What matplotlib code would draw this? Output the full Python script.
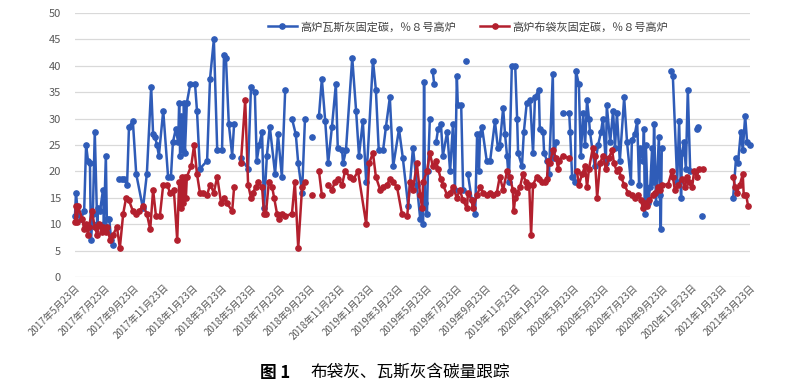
import datetime as dt
import numpy as np
import matplotlib
matplotlib.use("Agg")
import matplotlib.pyplot as plt
import matplotlib.dates as mdates

plt.rcParams['font.family'] = ['Noto Sans CJK SC', 'DejaVu Sans']

nan = float('nan')
start = dt.date(2017, 5, 23)

# days since 2017-05-23, nan = break in the line
blue_days = [0, 2, 6, 12, 19, 23, 27, 31, 33, 37, 41, 46, 48, 52, 58, 60, 64, 66, 71, 75, 79, 85,
             91, 97, 102, 108, 112, 120, 127, 141, 149, 158, 162, 166, 170, 174, 183, 193, 199, 203, 209, 214,
             216, 218, 220, 224, 226, 228, 232, 239, 249, 253, 259, 274, 280, 288, 295, 305, 309, 313, 319, 326,
             330, 337,
             344, 359, 365, 373, 377, 382, 388, 392, 398, 404, 415, 421, 429, 436, 443,
             450, 458, 463, 471, 477, 485,
             492, 499,
             506, 512, 519, 525, 533, 541, 545, 554, 556, 562, 575, 583, 589, 597, 604, 618, 624, 630, 639, 645,
             653, 660, 672, 680, 691, 701, 709, 716, 718, 722, 724, 726, 730, 732, 736, 739,
             742, 745, 747,
             749, 753, 759, 763, 772, 778, 784, 788, 792, 794, 801, 805, 808,
             811, 813,
             815, 823, 830, 834, 838, 840, 844, 854, 861, 871, 877, 881, 888, 892, 896, 900, 906, 913, 917, 919,
             927, 931, 937, 944, 950, 954, 962, 964, 971, 973, 979, 983, 991, 993, 998, 1005,
             1012, 1025, 1027, 1031, 1037, 1039, 1045, 1049, 1054, 1058, 1062, 1066, 1068, 1078, 1085, 1091,
             1095, 1101, 1103, 1110, 1116, 1120, 1124, 1130, 1139, 1145, 1153, 1155, 1161, 1166, 1170, 1172,
             1178, 1180, 1182, 1184, 1188, 1193, 1197, 1199, 1201, 1205, 1211, 1213, 1215, 1217, 1226,
             1236, 1240, 1249, 1253, 1257, 1259, 1263, 1267, 1271, 1276, 1283,
             1290, 1292, 1296,
             1300, 1330,
             1365, 1371, 1375, 1381, 1385, 1390, 1394, 1400]
blue_vals = [11.5, 16, 12, 11, 12.5, 25, 22, 21.5, 7, 12, 27.5, 10, 13, 12.5, 16.5, 10, 23, 11, 11, 7, 6, nan,
             18.5, 18.5, 18.5, 17.5, 28.5, 29.5, 19.5, 13, 19.5, 36, 27, 26.5, 25, 23, 31.5, 19, 19, 25.5, 28, 25.5,
             33, 23, 30.5, 24, 33, 23.5, 33, 36.5, 36.5, 31.5, 20.5, 22, 37.5, 45, 24, 24, 42, 41.5, 29, 23,
             29, nan,
             22.5, 20.5, 36, 35, 22, 25, 27.5, 13, 23, 28.5, 19.5, 27, 19, 35.5, nan,
             30, 27, 21.5, 16, 30, nan,
             26.5, nan,
             30.5, 37.5, 29.5, 21.5, 28.5, 36.5, 24.5, 24, 21.5, 24, 41.5, 31.5, 23, 29.5, 18, 41, 35.5, 24, 24, 28.5,
             34, 21, 28, 22.5, 13.5, 24.5, 17.5, 11, 13, 10, 37, 14, 12, 20, 30, nan,
             39, 36.5, nan,
             25.5, 28, 29, 23, 27.5, 20, 29, 16.5, 38, 32.5, 32.5, 16.5, nan,
             41, nan,
             19.5, 14.5, 12, 27, 20, 27, 28.5, 22, 22, 29.5, 24.5, 25, 32, 27, 23, 18, 40, 40, 30, 23.5,
             21, 27.5, 33, 33.5, 23.5, 34, 35.5, 28, 27.5, 23.5, 22, 19.5, 38.5, 22.5, 25.5, nan,
             31, 31, 27.5, 19, 18, 39, 36.5, 23, 31, 25, 33.5, 30, 27.5, 21, 25, 27.5,
             30, 21.5, 32.5, 25.5, 31.5, 24.5, 31, 22, 34, 25.5, 18, 26, 27, 29.5, 17.5, 24.5,
             22, 28, 12, 25, 14, 17, 24.5, 18, 29, 14, 26.5, 15.5, 9, 24.5, nan,
             39, 38, 18, 29.5, 15, 23.5, 25.5, 20.5, 35.5, 20, nan,
             28, 28.5, nan,
             11.5, nan,
             15, 22.5, 21.5, 27.5, 24, 30.5, 25.5, 25]

red_days = [0, 2, 4, 6, 15, 19, 23, 27, 29, 35, 41, 46, 50, 56, 58, 64, 66, 73, 79,
            87, 93, 100, 106, 112, 120, 127, 133, 141, 149, 156, 162, 168, 176, 183, 191, 197, 205, 212, 216,
            220, 222, 224, 228, 230, 232, 241, 247, 253, 259, 265, 274, 280, 288, 295, 303, 309, 315, 326, 330, 337,
            344, 353, 359, 365, 369, 375, 380, 388, 392, 396, 402, 409, 413, 419, 423, 429, 436, 450, 456, 463,
            471, 477, 485,
            492, 499,
            506, 512, 518,
            525, 533, 539, 545, 554, 560, 570, 577, 587, 604, 610, 618, 624, 633, 639, 647, 653, 660, 668, 678,
            689, 695, 701, 709, 716, 720, 722, 730, 736, 742, 749, 753, 759, 763, 772, 778, 784, 792, 798, 805,
            813, 815, 823, 825, 834, 840, 846, 854, 861, 867, 875, 881, 888, 896, 902, 908, 910, 913, 917, 923,
            929, 935, 937, 942, 946, 950, 958, 962, 969, 975, 979, 981, 985, 991, 998, 1002, 1004, 1012, 1025, 1033,
            1041, 1045, 1052, 1058, 1062, 1066, 1074, 1078, 1083, 1089, 1095, 1101, 1107, 1114, 1118, 1124,
            1128, 1132, 1139, 1147, 1155, 1161, 1168, 1174, 1178, 1182, 1186, 1190, 1199, 1203, 1209, 1213,
            1217, 1230, 1238, 1240, 1244, 1251, 1259, 1265, 1269, 1273, 1280, 1284, 1290, 1294, 1302, 1330,
            1365, 1369, 1373, 1379, 1385, 1387, 1392, 1396]
red_vals = [10.5, 13.5, 10.5, 13.5, 11, 9, 10, 8, 9.5, 12.5, 9.5, 8, 10, 8.5, 9.5, 8.5, 9.5, 7, 8,
            9.5, 5.5, 12, 15, 14.5, 12.5, 12, 12.5, 13.5, 12, 9, 16.5, 11.5, 11.5, 17.5, 17.5, 16, 16.5, 7, 18,
            13, 19, 14, 19, 15, 19, 21, 25, 19.5, 16, 16, 15.5, 17.5, 16, 19, 14, 15, 14, 12.5, 17, nan,
            21.5, 33.5, 17.5, 15, 16, 17, 18, 17, 12, 12, 18, 17, 15, 12, 11, 12, 11.5, 12, 18, 5.5,
            17, 18, nan,
            15.5, nan,
            20, 15.5, nan,
            17.5, 16.5, 18, 18.5, 17.5, 20, 19, 18.5, 20, 10, 21.5, 23.5, 19, 16.5, 17, 17.5, 18.5, 18, 17, 12,
            11.5, 18, 16.5, 21.5, 15.5, 13, 18, 20, 23.5, 21, 22, 20.5, 18.5, 17.5, 15.5, 16, 17, 15, 16.5, 14.5,
            13, 16, 14.5, 13, 15.5, 17, 16, 15.5, 16, 15.5, 16, 19, 16.5, 20, 19, 16.5, 12.5, 15, 16, 17,
            19.5, 18, 17, 17.5, 8, 17.5, 19, 18.5, 18, 18, 18.5, 22, 21.5, 24, 22.5, 20.5, 22, 23, 22.5, nan,
            20, 17.5, 19.5, 21, 17, 20.5, 24.5, 23, 15, 21.5, 23, 20.5, 22.5, 24, 21.5, 20,
            20.5, 19, 17.5, 16, 15.5, 15, 15.5, 14.5, 13, 14, 13.5, 14.5, 15.5, 16, 17, 16.5,
            17.5, 17.5, 20, 19, 16.5, 17.5, 18.5, 17, 19, 18, 17, 20, 19, 20.5, 20.5, nan,
            19, 17, 16, 17.5, 19.5, 15.5, 15.5, 13.5]

blue_name = '高炉瓦斯灰固定碳，％８号高炉'
red_name = '高炉布袋灰固定碳，％８号高炉'
tick_dates = [dt.date(2017 + (4 + 2 * i) // 12, (4 + 2 * i) % 12 + 1, 23) for i in range(24)]
tick_labels = [f'{d.year}年{d.month}月{d.day}日' for d in tick_dates]


def to_dates(days):
    return [start + dt.timedelta(days=int(d)) for d in days]


fig = plt.figure(figsize=(8, 3.89), dpi=100)
ax = fig.add_axes([75 / 800, 1 - 277 / 389, 675 / 800, 264 / 389])

ax.plot(to_dates(blue_days), np.array(blue_vals, float), color='#2f5cb8', lw=1.8,
        marker='o', ms=3.8, label=blue_name, zorder=3, clip_on=False)
ax.plot(to_dates(red_days), np.array(red_vals, float), color='#b3202e', lw=1.8,
        marker='o', ms=3.8, label=red_name, zorder=4, clip_on=False)

ax.set_ylim(0, 50)
ax.set_yticks(range(0, 51, 5))
ax.set_xlim(start, tick_dates[-1])
ax.set_xticks(tick_dates)
ax.set_xticklabels(tick_labels, rotation=45, ha='right', rotation_mode='anchor',
                   fontsize=7, color='#595959')
ax.tick_params(axis='y', labelsize=8, colors='#595959', length=0, pad=10)
ax.tick_params(axis='x', length=0, pad=4)
ax.grid(axis='y', color='#d9d9d9', lw=0.9)
ax.set_axisbelow(True)
for s in ax.spines.values():
    s.set_visible(False)

leg = ax.legend(loc='center', bbox_to_anchor=(0.582, 0.947), ncol=2, frameon=False,
                fontsize=8, handlelength=2.6, columnspacing=2.2, handletextpad=0.3)
for t in leg.get_texts():
    t.set_color('#404040')
leg.set_zorder(10)

fig.text(0.325, 0.042, '图 1', fontsize=12, fontweight='bold', ha='left', va='center')
fig.text(0.388, 0.042, '布袋灰、瓦斯灰含碳量跟踪', fontsize=12, ha='left', va='center')

fig.savefig('out.png', dpi=100)
